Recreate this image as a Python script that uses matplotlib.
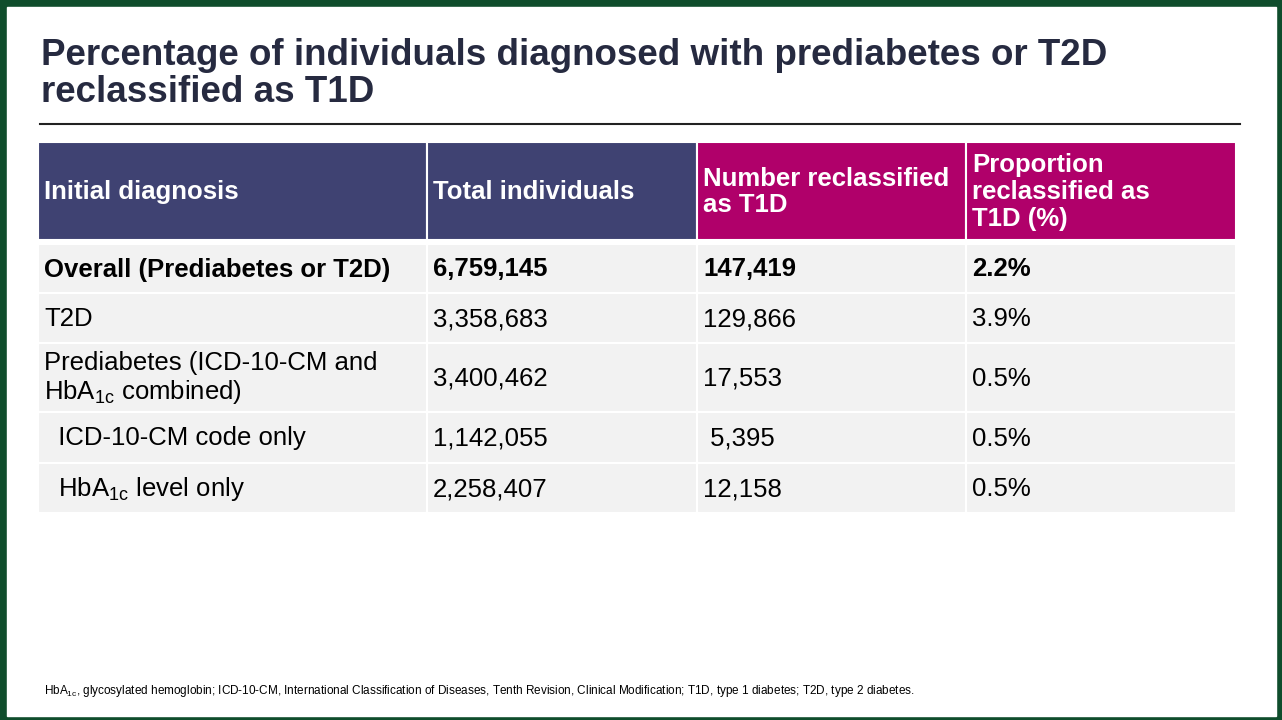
import matplotlib.pyplot as plt
from matplotlib.patches import Rectangle

plt.rcParams['font.family'] = ['Liberation Sans', 'DejaVu Sans']
plt.rcParams['mathtext.fontset'] = 'custom'
plt.rcParams['mathtext.rm'] = 'Liberation Sans'

# 表格数据
headers = ['Initial diagnosis', 'Total individuals', 'Number reclassified\nas T1D',
           'Proportion\nreclassified as\nT1D (%)']
diagnosis = ['Overall (Prediabetes or T2D)', 'T2D',
             'Prediabetes (ICD-10-CM and\nHbA$_{\\mathrm{1c}}$ combined)',
             '  ICD-10-CM code only', '  HbA$_{\\mathrm{1c}}$ level only']
total = ['6,759,145', '3,358,683', '3,400,462', '1,142,055', '2,258,407']
reclass = ['147,419', '129,866', '17,553', ' 5,395', '12,158']
proportion = ['2.2%', '3.9%', '0.5%', '0.5%', '0.5%']

col_edges = [38, 427, 697, 966, 1236]
row_edges = [244, 293, 343, 412, 463, 513]
head_colors = ['#3f4272', '#3f4272', '#b0006a', '#b0006a']

fig = plt.figure(figsize=(12.82, 7.2), dpi=100)
fig.patch.set_facecolor('#0f4d2c')
ax = fig.add_axes([0, 0, 1, 1])
ax.set_xlim(0, 1282)
ax.set_ylim(720, 0)
ax.axis('off')

# 白色幻灯片背景
ax.add_patch(Rectangle((7, 7), 1269, 709, color='white'))

ax.text(41, 74, 'Percentage of individuals diagnosed with prediabetes or T2D\nreclassified as T1D',
        fontsize=26.5, fontweight='bold', color='#262a40', va='center', linespacing=1.05)
ax.plot([40, 1240], [124, 124], color='#222222', lw=1.5)

# 表头
for i, h in enumerate(headers):
    ax.add_patch(Rectangle((col_edges[i], 142), col_edges[i + 1] - col_edges[i], 98,
                           facecolor=head_colors[i], edgecolor='white', lw=1.5))
    ax.text(col_edges[i] + 6, 192, h, fontsize=18.5, fontweight='bold', color='white',
            va='center', linespacing=1.15)

# 数据行
cols = [diagnosis, total, reclass, proportion]
for r in range(len(diagnosis)):
    y0, y1 = row_edges[r], row_edges[r + 1]
    for c in range(4):
        ax.add_patch(Rectangle((col_edges[c], y0), col_edges[c + 1] - col_edges[c], y1 - y0,
                               facecolor='#f2f2f2', edgecolor='white', lw=1.5))
        ax.text(col_edges[c] + 6, (y0 + y1) / 2 + 1, cols[c][r], fontsize=18.5,
                fontweight='bold' if r == 0 else 'normal', color='black',
                va='center', linespacing=1.1)

ax.text(44, 691, 'HbA$_{\\mathrm{1c}}$, glycosylated hemoglobin; ICD-10-CM, International Classification of '
        'Diseases, Tenth Revision, Clinical Modification; T1D, type 1 diabetes; T2D, type 2 diabetes.',
        fontsize=8.5, color='black', va='center')

fig.savefig('out.png', dpi=100, facecolor=fig.get_facecolor())
